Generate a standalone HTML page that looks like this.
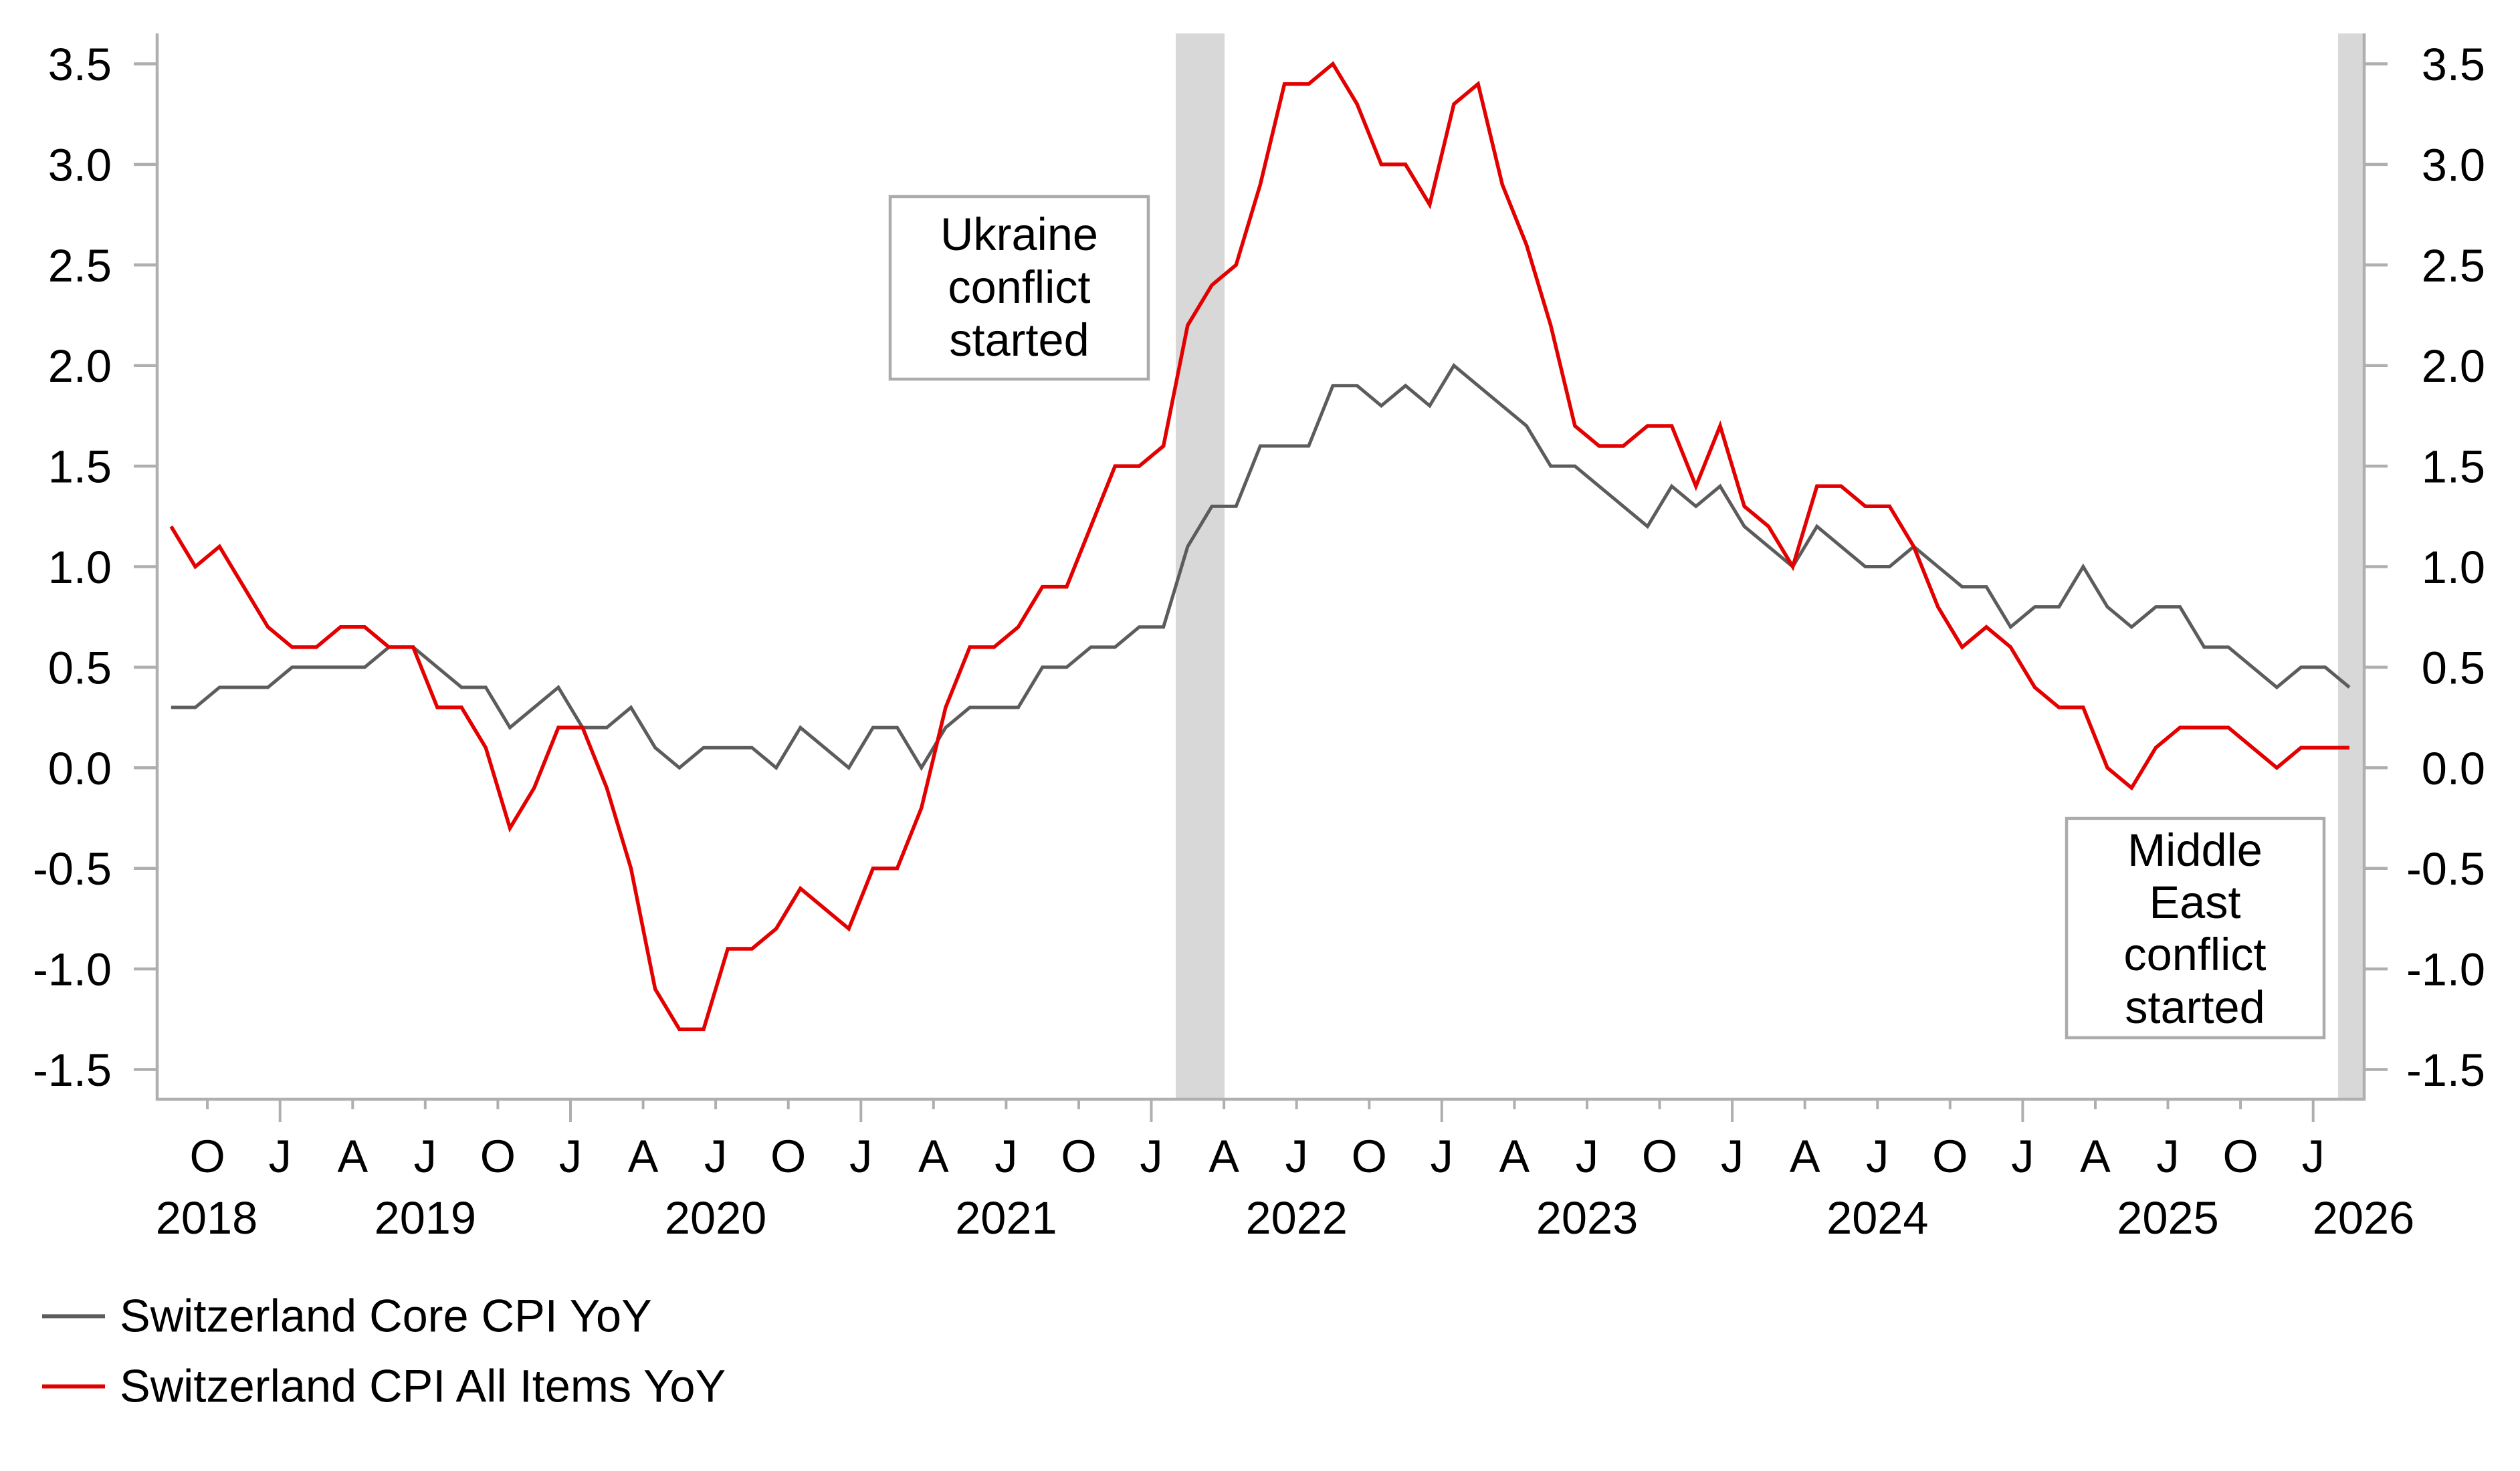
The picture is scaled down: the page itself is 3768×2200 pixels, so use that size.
<!DOCTYPE html>
<html>
<head>
<meta charset="utf-8">
<style>
html,body{margin:0;padding:0;background:#fff;}
svg{display:block;}
text{font-family:"Liberation Sans",Arial,sans-serif;fill:#000;}
</style>
</head>
<body>
<svg width="3768" height="2200" viewBox="0 0 3768 2200" xmlns="http://www.w3.org/2000/svg">
<rect x="0" y="0" width="3768" height="2200" fill="#fff"/>

<!-- shaded periods -->
<rect x="1758" y="50" width="73" height="1594" fill="#d8d8d8"/>
<rect x="3496" y="50" width="38" height="1594" fill="#d8d8d8"/>

<!-- axes -->
<g stroke="#afafaf" stroke-width="4.5" fill="none">
  <line x1="235" y1="50" x2="235" y2="1646"/>
  <line x1="3535" y1="50" x2="3535" y2="1646"/>
  <line x1="233" y1="1644" x2="3537" y2="1644"/>
  <line x1="200" y1="95.5" x2="233" y2="95.5"/>
  <line x1="200" y1="245.9" x2="233" y2="245.9"/>
  <line x1="200" y1="396.3" x2="233" y2="396.3"/>
  <line x1="200" y1="546.7" x2="233" y2="546.7"/>
  <line x1="200" y1="697.1" x2="233" y2="697.1"/>
  <line x1="200" y1="847.5" x2="233" y2="847.5"/>
  <line x1="200" y1="997.9" x2="233" y2="997.9"/>
  <line x1="200" y1="1148.3" x2="233" y2="1148.3"/>
  <line x1="200" y1="1298.7" x2="233" y2="1298.7"/>
  <line x1="200" y1="1449.1" x2="233" y2="1449.1"/>
  <line x1="200" y1="1599.5" x2="233" y2="1599.5"/>
  <line x1="3537" y1="95.5" x2="3570" y2="95.5"/>
  <line x1="3537" y1="245.9" x2="3570" y2="245.9"/>
  <line x1="3537" y1="396.3" x2="3570" y2="396.3"/>
  <line x1="3537" y1="546.7" x2="3570" y2="546.7"/>
  <line x1="3537" y1="697.1" x2="3570" y2="697.1"/>
  <line x1="3537" y1="847.5" x2="3570" y2="847.5"/>
  <line x1="3537" y1="997.9" x2="3570" y2="997.9"/>
  <line x1="3537" y1="1148.3" x2="3570" y2="1148.3"/>
  <line x1="3537" y1="1298.7" x2="3570" y2="1298.7"/>
  <line x1="3537" y1="1449.1" x2="3570" y2="1449.1"/>
  <line x1="3537" y1="1599.5" x2="3570" y2="1599.5"/>
</g>
<g stroke="#afafaf" stroke-width="4" fill="none">
  <line x1="310.1" y1="1644" x2="310.1" y2="1659"/>
  <line x1="418.7" y1="1644" x2="418.7" y2="1678"/>
  <line x1="527.3" y1="1644" x2="527.3" y2="1659"/>
  <line x1="635.8" y1="1644" x2="635.8" y2="1659"/>
  <line x1="744.4" y1="1644" x2="744.4" y2="1659"/>
  <line x1="853.0" y1="1644" x2="853.0" y2="1678"/>
  <line x1="961.6" y1="1644" x2="961.6" y2="1659"/>
  <line x1="1070.1" y1="1644" x2="1070.1" y2="1659"/>
  <line x1="1178.7" y1="1644" x2="1178.7" y2="1659"/>
  <line x1="1287.3" y1="1644" x2="1287.3" y2="1678"/>
  <line x1="1395.8" y1="1644" x2="1395.8" y2="1659"/>
  <line x1="1504.4" y1="1644" x2="1504.4" y2="1659"/>
  <line x1="1613.0" y1="1644" x2="1613.0" y2="1659"/>
  <line x1="1721.5" y1="1644" x2="1721.5" y2="1678"/>
  <line x1="1830.1" y1="1644" x2="1830.1" y2="1659"/>
  <line x1="1938.7" y1="1644" x2="1938.7" y2="1659"/>
  <line x1="2047.3" y1="1644" x2="2047.3" y2="1659"/>
  <line x1="2155.8" y1="1644" x2="2155.8" y2="1678"/>
  <line x1="2264.4" y1="1644" x2="2264.4" y2="1659"/>
  <line x1="2373.0" y1="1644" x2="2373.0" y2="1659"/>
  <line x1="2481.5" y1="1644" x2="2481.5" y2="1659"/>
  <line x1="2590.1" y1="1644" x2="2590.1" y2="1678"/>
  <line x1="2698.7" y1="1644" x2="2698.7" y2="1659"/>
  <line x1="2807.3" y1="1644" x2="2807.3" y2="1659"/>
  <line x1="2915.8" y1="1644" x2="2915.8" y2="1659"/>
  <line x1="3024.4" y1="1644" x2="3024.4" y2="1678"/>
  <line x1="3133.0" y1="1644" x2="3133.0" y2="1659"/>
  <line x1="3241.5" y1="1644" x2="3241.5" y2="1659"/>
  <line x1="3350.1" y1="1644" x2="3350.1" y2="1659"/>
  <line x1="3458.7" y1="1644" x2="3458.7" y2="1678"/>
</g>

<g font-size="68.5" text-anchor="end">
  <text x="167" y="120">3.5</text>
  <text x="167" y="270.4">3.0</text>
  <text x="167" y="420.8">2.5</text>
  <text x="167" y="571.2">2.0</text>
  <text x="167" y="721.6">1.5</text>
  <text x="167" y="872">1.0</text>
  <text x="167" y="1022.4">0.5</text>
  <text x="167" y="1172.8">0.0</text>
  <text x="167" y="1323.2">-0.5</text>
  <text x="167" y="1473.6">-1.0</text>
  <text x="167" y="1624">-1.5</text>
</g>
<g font-size="68.5" text-anchor="end">
  <text x="3716" y="120">3.5</text>
  <text x="3716" y="270.4">3.0</text>
  <text x="3716" y="420.8">2.5</text>
  <text x="3716" y="571.2">2.0</text>
  <text x="3716" y="721.6">1.5</text>
  <text x="3716" y="872">1.0</text>
  <text x="3716" y="1022.4">0.5</text>
  <text x="3716" y="1172.8">0.0</text>
  <text x="3716" y="1323.2">-0.5</text>
  <text x="3716" y="1473.6">-1.0</text>
  <text x="3716" y="1624">-1.5</text>
</g>

<g font-size="68.5" text-anchor="middle">
  <text x="310.1" y="1753">O</text>
  <text x="418.7" y="1753">J</text>
  <text x="527.3" y="1753">A</text>
  <text x="635.8" y="1753">J</text>
  <text x="744.4" y="1753">O</text>
  <text x="853.0" y="1753">J</text>
  <text x="961.6" y="1753">A</text>
  <text x="1070.1" y="1753">J</text>
  <text x="1178.7" y="1753">O</text>
  <text x="1287.3" y="1753">J</text>
  <text x="1395.8" y="1753">A</text>
  <text x="1504.4" y="1753">J</text>
  <text x="1613.0" y="1753">O</text>
  <text x="1721.5" y="1753">J</text>
  <text x="1830.1" y="1753">A</text>
  <text x="1938.7" y="1753">J</text>
  <text x="2047.3" y="1753">O</text>
  <text x="2155.8" y="1753">J</text>
  <text x="2264.4" y="1753">A</text>
  <text x="2373.0" y="1753">J</text>
  <text x="2481.5" y="1753">O</text>
  <text x="2590.1" y="1753">J</text>
  <text x="2698.7" y="1753">A</text>
  <text x="2807.3" y="1753">J</text>
  <text x="2915.8" y="1753">O</text>
  <text x="3024.4" y="1753">J</text>
  <text x="3133.0" y="1753">A</text>
  <text x="3241.5" y="1753">J</text>
  <text x="3350.1" y="1753">O</text>
  <text x="3458.7" y="1753">J</text>
</g>
<g font-size="68.5" text-anchor="middle">
  <text x="309" y="1845">2018</text>
  <text x="635.8" y="1845">2019</text>
  <text x="1070.1" y="1845">2020</text>
  <text x="1504.4" y="1845">2021</text>
  <text x="1938.7" y="1845">2022</text>
  <text x="2373.0" y="1845">2023</text>
  <text x="2807.3" y="1845">2024</text>
  <text x="3241.5" y="1845">2025</text>
  <text x="3534" y="1845">2026</text>
</g>

<g transform="translate(436.795,1148.3) scale(36.19,-300.8)" fill="none" stroke-linejoin="miter" stroke-linecap="butt">
  <polyline vector-effect="non-scaling-stroke" stroke="#5c5c5c" stroke-width="5" points="-5,0.3 -4,0.3 -3,0.4 -2,0.4 -1,0.4 0,0.5 1,0.5 2,0.5 3,0.5 4,0.6 5,0.6 6,0.5 7,0.4 8,0.4 9,0.2 10,0.3 11,0.4 12,0.2 13,0.2 14,0.3 15,0.1 16,0 17,0.1 18,0.1 19,0.1 20,0 21,0.2 22,0.1 23,0 24,0.2 25,0.2 26,0 27,0.2 28,0.3 29,0.3 30,0.3 31,0.5 32,0.5 33,0.6 34,0.6 35,0.7 36,0.7 37,1.1 38,1.3 39,1.3 40,1.6 41,1.6 42,1.6 43,1.9 44,1.9 45,1.8 46,1.9 47,1.8 48,2.0 49,1.9 50,1.8 51,1.7 52,1.5 53,1.5 54,1.4 55,1.3 56,1.2 57,1.4 58,1.3 59,1.4 60,1.2 61,1.1 62,1.0 63,1.2 64,1.1 65,1.0 66,1.0 67,1.1 68,1.0 69,0.9 70,0.9 71,0.7 72,0.8 73,0.8 74,1.0 75,0.8 76,0.7 77,0.8 78,0.8 79,0.6 80,0.6 81,0.5 82,0.4 83,0.5 84,0.5 85,0.4"/>
  <polyline vector-effect="non-scaling-stroke" stroke="#e30000" stroke-width="5.5" points="-5,1.2 -4,1.0 -3,1.1 -2,0.9 -1,0.7 0,0.6 1,0.6 2,0.7 3,0.7 4,0.6 5,0.6 6,0.3 7,0.3 8,0.1 9,-0.3 10,-0.1 11,0.2 12,0.2 13,-0.1 14,-0.5 15,-1.1 16,-1.3 17,-1.3 18,-0.9 19,-0.9 20,-0.8 21,-0.6 22,-0.7 23,-0.8 24,-0.5 25,-0.5 26,-0.2 27,0.3 28,0.6 29,0.6 30,0.7 31,0.9 32,0.9 33,1.2 34,1.5 35,1.5 36,1.6 37,2.2 38,2.4 39,2.5 40,2.9 41,3.4 42,3.4 43,3.5 44,3.3 45,3.0 46,3.0 47,2.8 48,3.3 49,3.4 50,2.9 51,2.6 52,2.2 53,1.7 54,1.6 55,1.6 56,1.7 57,1.7 58,1.4 59,1.7 60,1.3 61,1.2 62,1.0 63,1.4 64,1.4 65,1.3 66,1.3 67,1.1 68,0.8 69,0.6 70,0.7 71,0.6 72,0.4 73,0.3 74,0.3 75,0 76,-0.1 77,0.1 78,0.2 79,0.2 80,0.2 81,0.1 82,0 83,0.1 84,0.1 85,0.1"/>
</g>

<rect x="1331" y="294" width="386" height="273" fill="#fff" stroke="#ababab" stroke-width="4.5"/>
<g font-size="68.5" text-anchor="middle">
  <text x="1524" y="374">Ukraine</text>
  <text x="1524" y="453">conflict</text>
  <text x="1524" y="532">started</text>
</g>
<rect x="3090" y="1224" width="385" height="328" fill="#fff" stroke="#ababab" stroke-width="4.5"/>
<g font-size="68.5" text-anchor="middle">
  <text x="3282" y="1295">Middle</text>
  <text x="3282" y="1373">East</text>
  <text x="3282" y="1451">conflict</text>
  <text x="3282" y="1530">started</text>
</g>

<line x1="63" y1="1968.5" x2="157" y2="1968.5" stroke="#5c5c5c" stroke-width="6"/>
<text x="179" y="1991.5" font-size="68.5">Switzerland Core CPI YoY</text>
<line x1="63" y1="2073.5" x2="157" y2="2073.5" stroke="#e30000" stroke-width="6"/>
<text x="179" y="2096.5" font-size="68.5">Switzerland CPI All Items YoY</text>
</svg>
</body>
</html>
